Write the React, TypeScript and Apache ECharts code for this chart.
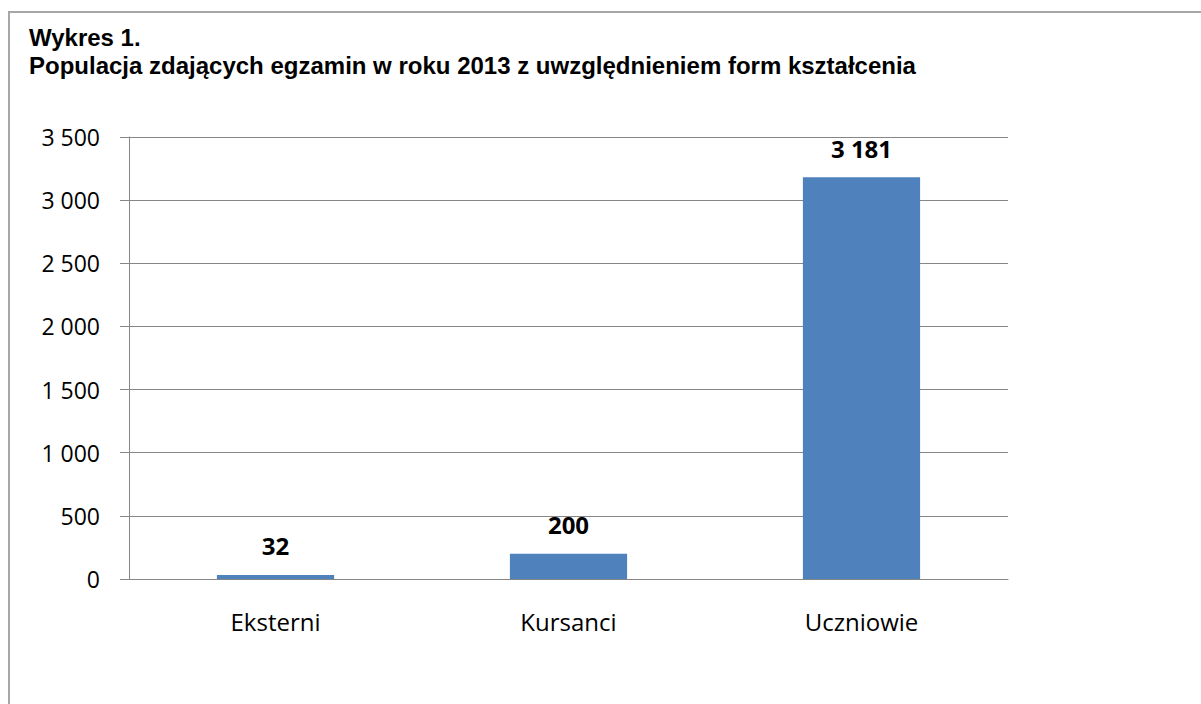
import React, { useEffect, useRef } from "react";
import * as echarts from "echarts";

const categories = ["Eksterni", "Kursanci", "Uczniowie"];
const values = [32, 200, 3181];
const titleLine1 = "Wykres 1.";
const titleLine2 = "Populacja zdających egzamin w roku 2013 z uwzględnieniem form kształcenia";

const fmt = (v: number) => {
  const s = String(Math.round(v));
  return s.replace(/\B(?=(\d{3})+(?!\d))/g, " ");
};

export default function App() {
  const ref = useRef<HTMLDivElement>(null);
  useEffect(() => {
    document.body.style.margin = "0";
    const chart = echarts.init(ref.current!, null, { renderer: "svg" });
    const font = "Open Sans";
    chart.setOption({
      animation: false,
      backgroundColor: "#ffffff",
      graphic: [
        {
          type: "rect",
          shape: { x: 9, y: 12, width: 1300, height: 800 },
          style: { fill: "none", stroke: "#a6a6a6", lineWidth: 2 },
          silent: true,
        },
        {
          type: "text",
          x: 29,
          y: 37,
          style: {
            text: titleLine1,
            font: "bold 24px 'Liberation Sans', Arial",
            fill: "#000",
            verticalAlign: "middle",
          },
        },
        {
          type: "text",
          x: 29,
          y: 65,
          style: {
            text: titleLine2,
            font: "bold 24px 'Liberation Sans', Arial",
            fill: "#000",
            verticalAlign: "middle",
          },
        },
      ],
      grid: { left: 129, right: 193, top: 137, bottom: 125, containLabel: false },
      xAxis: {
        type: "category",
        data: categories,
        axisLine: { show: true, lineStyle: { color: "#868686", width: 1 } },
        axisTick: { show: false },
        axisLabel: { margin: 30, fontFamily: font, fontSize: 24, color: "#000" },
      },
      yAxis: {
        type: "value",
        min: 0,
        max: 3500,
        interval: 500,
        axisLine: { show: true, lineStyle: { color: "#868686", width: 1 } },
        axisTick: { show: true, length: 9, lineStyle: { color: "#868686" } },
        splitLine: { show: true, lineStyle: { color: "#868686", width: 1 } },
        axisLabel: {
          margin: 29,
          fontFamily: font,
          fontSize: 23,
          color: "#000",
          formatter: (v: number) => fmt(v),
        },
      },
      series: [
        {
          type: "bar",
          data: values,
          barWidth: "40%",
          itemStyle: { color: "#4f81bd" },
          label: {
            show: true,
            position: "top",
            distance: 17,
            fontFamily: font,
            fontSize: 24,
            fontWeight: "bold",
            color: "#000",
            formatter: (p: any) => fmt(p.value),
          },
        },
      ],
    });
    return () => chart.dispose();
  }, []);
  return (
    <div
      ref={ref}
      style={{ position: "absolute", left: 0, top: 0, width: 1201, height: 704 }}
    />
  );
}
